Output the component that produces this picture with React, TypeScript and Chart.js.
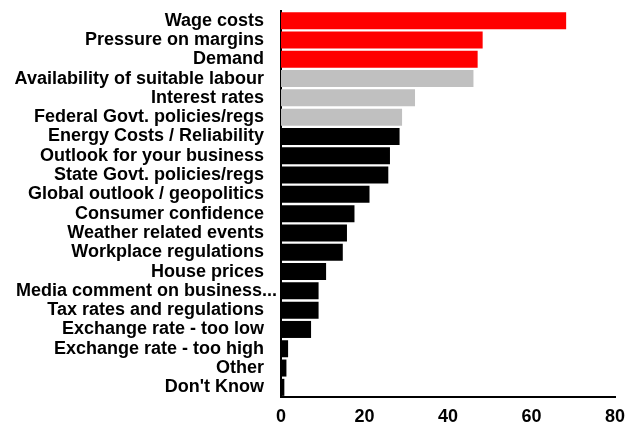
import React, { useEffect, useRef } from "react";
import { Chart, registerables } from "chart.js";

Chart.register(...registerables);

const categories = [
  "Wage costs",
  "Pressure on margins",
  "Demand",
  "Availability of suitable labour",
  "Interest rates",
  "Federal Govt. policies/regs",
  "Energy Costs / Reliability",
  "Outlook for your business",
  "State Govt. policies/regs",
  "Global outlook / geopolitics",
  "Consumer confidence",
  "Weather related events",
  "Workplace regulations",
  "House prices",
  "Media comment on business...",
  "Tax rates and regulations",
  "Exchange rate - too low",
  "Exchange rate - too high",
  "Other",
  "Don't Know",
];

const values = [68.3, 48.3, 47.1, 46.1, 32.1, 29.0, 28.4, 26.1, 25.7, 21.2, 17.6, 15.8, 14.8, 10.8, 9.0, 9.0, 7.2, 1.7, 1.3, 0.8];

const barColors = [
  "#FF0000", "#FF0000", "#FF0000",
  "#C0C0C0", "#C0C0C0", "#C0C0C0",
  "#000000", "#000000", "#000000", "#000000", "#000000", "#000000", "#000000",
  "#000000", "#000000", "#000000", "#000000", "#000000", "#000000", "#000000",
];

const overflowLabelIndex = 14;

const xMin = 0;
const xMax = 80;
const xStep = 20;

const FONT_FAMILY = "Liberation Sans, Arial, sans-serif";

// Draws the one long label that overflows toward the axis (as in the original), under the bars.
const overflowLabelPlugin = {
  id: "overflowLabel",
  beforeDatasetsDraw(chart: any) {
    const y = chart.scales.y;
    const ctx = chart.ctx;
    ctx.save();
    ctx.font = `bold 18px ${FONT_FAMILY}`;
    ctx.fillStyle = "#000";
    ctx.textAlign = "left";
    ctx.textBaseline = "middle";
    ctx.fillText(categories[overflowLabelIndex], 16, y.getPixelForTick(overflowLabelIndex));
    ctx.restore();
  },
};

export default function App() {
  const ref = useRef<HTMLCanvasElement | null>(null);

  useEffect(() => {
    document.body.style.margin = "0";
    const canvas = ref.current;
    if (!canvas) return;
    const chart = new Chart(canvas, {
      type: "bar",
      data: {
        labels: categories,
        datasets: [
          {
            data: values,
            backgroundColor: barColors,
            borderWidth: 0,
            categoryPercentage: 0.9,
            barPercentage: 0.98,
          },
        ],
      },
      plugins: [overflowLabelPlugin],
      options: {
        indexAxis: "y",
        animation: false,
        responsive: false,
        maintainAspectRatio: false,
        layout: { padding: { top: 11, right: 25, left: 0, bottom: 0 } },
        plugins: {
          legend: { display: false },
          tooltip: { enabled: false },
        },
        scales: {
          x: {
            min: xMin,
            max: xMax,
            ticks: {
              stepSize: xStep,
              color: "#000",
              padding: 9,
              font: { family: FONT_FAMILY, size: 18, weight: "bold" },
            },
            grid: { display: false, drawTicks: false },
            border: { display: true, color: "#000", width: 2 },
            afterFit: (scale: any) => {
              scale.height = 29;
              scale.paddingLeft = 0;
              scale.paddingRight = 0;
            },
          },
          y: {
            ticks: {
              color: (c: any) => (c.index === overflowLabelIndex ? "rgba(0,0,0,0)" : "#000"),
              padding: 17,
              autoSkip: false,
              font: { family: FONT_FAMILY, size: 18, weight: "bold" },
            },
            grid: { display: false, drawTicks: false },
            border: { display: true, color: "#000", width: 2 },
            afterFit: (scale: any) => {
              scale.width = 281;
              scale.paddingTop = 0;
              scale.paddingBottom = 0;
            },
          },
        },
      },
    });
    return () => chart.destroy();
  }, []);

  return <canvas ref={ref} width={640} height={426} style={{ display: "block" }} />;
}
